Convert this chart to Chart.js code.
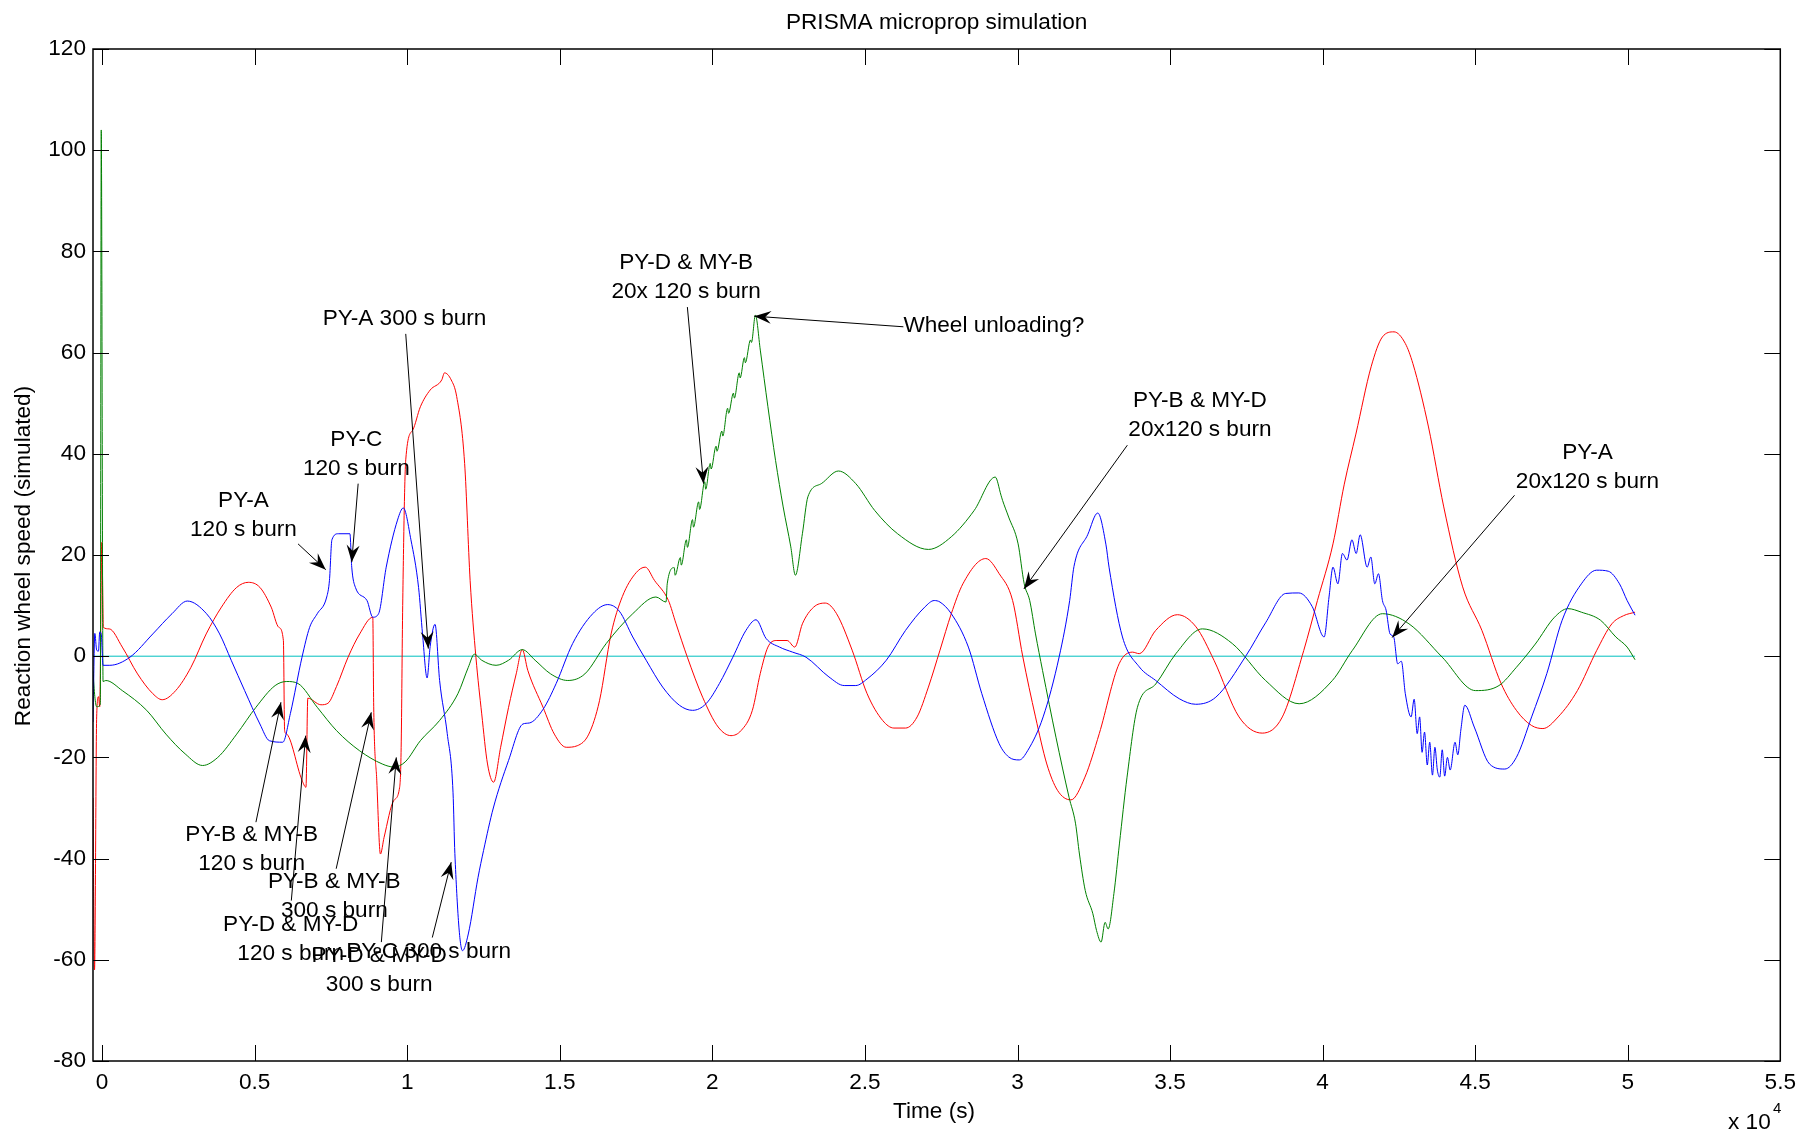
<!DOCTYPE html>
<html>
<head>
<meta charset="utf-8">
<title>PRISMA microprop simulation</title>
<script src="https://cdn.jsdelivr.net/npm/chart.js@4/dist/chart.umd.min.js"></script>
<style>
  html, body { margin: 0; padding: 0; background: #fff; }
  canvas { display: block; }
</style>
</head>
<body>
<canvas id="chart" width="1804" height="1132"></canvas>
<script>
// time in seconds, wheel speed as plotted
const tBlue = [-300,-240,-180,-120,-80,-30,30,250,910,1660,2290,2790,3420,3850,4230,4670,5170,5480,5920,6170,
  6550,6800,7050,7360,7450,7530,7740,8120,8180,8300,8680,8870,9060,9310,9680,9870,10120,10370,10500,10650,
  10750,10910,11060,11310,11500,11560,11810,12000,12320,12500,12820,13320,13790,14000,14450,14880,15420,16080,16570,16950,
  17390,17830,18370,18920,19350,19790,20230,20670,21100,21430,21760,22200,22630,23070,23820,24320,24700,25070,25700,26330,
  26960,27270,27460,27830,28390,28830,29400,29710,30060,30340,30840,31370,31710,31850,32300,32630,32900,33000,33440,33990,
  34530,35300,35840,36500,37480,38130,38790,39220,39660,40050,40210,40340,40500,40650,40800,40960,41100,41230,41460,41580,
  41710,41830,41960,42080,42210,42330,42460,42580,42710,42900,43000,43100,43180,43260,43340,43430,43510,43600,43680,43760,
  43840,43920,44000,44090,44180,44340,44430,44530,44660,44970,45470,45970,46350,46850,47350,47850,48480,48980,49360,49730,
  49980,50240];
const vBlue = [-13,4.5,1.2,1.0,4.8,4.4,-1.8,-1.8,-0.2,4.4,8.4,10.9,8.4,4.4,-0.8,-6.8,-13.4,-16.7,-17,-11.3,
  -0.2,5.7,8.4,11.7,15,23,24.2,24.2,17.6,13.6,11,7.7,8.4,17.6,26.9,29.3,23,13.6,4.4,-4.3,
  1.9,6.3,-4.8,-15.3,-27,-39,-58.2,-54.9,-43.7,-38.4,-30,-20.6,-13.4,-13.2,-10.5,-5.4,2.5,8.4,10.2,8.9,
  3.8,-0.8,-6.1,-9.7,-10.7,-9.4,-5.4,-0.2,5.1,7.2,3.5,1.8,0.8,-0.2,-4.1,-5.8,-5.8,-4.5,-0.8,5.1,
  9.7,11,10.7,8.4,1.8,-7.4,-17.3,-19.9,-20.5,-18.6,-12,0,11,17.7,24,28.3,22,17.6,3.8,-2.1,
  -4.8,-8.4,-9.5,-8.1,0,6.6,12.4,12.5,9.8,3.8,11.7,17.6,14.3,20.3,19,23,20.3,24,17.6,19.6,
  14.3,16.3,11,9.1,4.4,3.8,-1.5,-1.0,-7.4,-12,-8.5,-15.3,-12,-19,-15,-21.5,-17,-23.5,-18,-22.5,
  -23.9,-18.5,-23.7,-20,-22.5,-17,-19.5,-14.6,-9.7,-14,-21.3,-22.3,-20,-12,-3.4,7.1,14.3,17,16.8,14.3,
  11,8.1];

const tGreen = [-300,-240,-180,-60,-30,30,120,660,1460,2090,2720,3290,3790,4410,5040,5670,6050,6420,7050,7680,
  8440,9180,9560,9930,10430,11060,11660,12000,12200,12440,12910,13320,13770,14190,14700,15260,15820,16520,17390,18150,
  18480,18520,18750,18780,18950,18980,19150,19180,19350,19380,19550,19580,19750,19780,19930,19960,20120,20150,20310,20340,
  20500,20530,20690,20720,20880,20910,21050,21080,21250,21280,21410,21570,21820,22070,22320,22570,22720,22950,23130,23570,
  24130,24700,25320,26070,27080,27830,28580,29270,29460,29510,29710,30020,30220,30400,30590,30820,31260,31690,31900,32030,
  32220,32470,32590,32740,32870,32970,33160,33340,33590,33930,34530,35190,36060,37040,38130,39230,40320,40970,41960,42830,
  43920,45010,45780,46350,46970,47600,48040,48480,49110,49610,49980,50240];
const vGreen = [-3,-8,-10,-9.5,104,-5,-4.8,-6.8,-10.7,-15.4,-19.3,-21.6,-20,-15.4,-10.1,-5.8,-5,-5.4,-10.1,-14.7,
  -18.7,-21.3,-21.9,-20.9,-16.7,-12.7,-7.4,-2.2,0.4,-0.8,-1.8,-0.8,1.3,-0.8,-3.5,-4.8,-3.5,2.5,8.4,11.7,
  10.7,14.3,17.5,16,19.5,18,23,21.5,27,25.5,30.5,29,34.5,33,38.1,37,41.5,40.5,44.5,43.5,
  49,48,52,51,56,55,59,58,62.5,62,67.4,60.5,49.3,38.7,29.5,21.6,16,24.2,31.5,34.1,
  36.6,34.1,28.8,24.2,21.1,23.6,28.8,35.4,31.8,30.8,27.5,22.2,14.3,11,4.4,-2.8,-16,-27.9,-33,-39.1,
  -46.3,-50.9,-54.2,-56.5,-52.6,-53.9,-46.9,-37.1,-23.9,-10.1,-5.5,0.5,5.4,2.5,-4.8,-9.4,-4.8,1.1,8.4,6.4,
  -0.2,-6.8,-5.8,-2.2,2.4,7.7,9.4,8.7,7.1,3.8,1.8,-0.7];

const tRed = [-300,-250,-180,-120,-80,-10,40,230,660,1160,1660,1970,2410,2910,3410,3910,4410,4790,5170,5540,
  5790,5940,5980,6030,6550,6680,6740,7170,7400,7680,8060,8440,8870,8900,9000,9120,9240,9560,9750,9800,
  9850,9950,10180,10430,10750,11130,11220,11440,11620,11880,12060,12250,12440,12630,12830,13060,13320,13570,13770,13950,
  14450,14820,15210,15570,15950,16300,16680,17050,17500,17800,18100,18560,18810,19180,19680,20190,20610,20940,21310,21570,
  21820,22090,22450,22700,22950,23320,23700,24070,24580,25070,25580,25950,26330,26710,27080,27460,27830,28210,28960,29400,
  29840,30170,30590,30960,31310,31750,32210,32680,33330,33770,33990,34530,35240,35850,36440,37260,38020,38680,39380,39830,
  40340,40710,41090,41590,41960,42340,42710,42960,43470,43970,44590,45220,45850,46350,46850,47220,47720,48350,48980,49480,
  49860,50240];
const vRed = [-28,-62,-12,-8,-10,22.5,5.7,5.4,1.8,-3.5,-7.4,-8.6,-6.8,-2.2,4.4,9.7,13.6,14.6,13.6,9.7,
  5.7,3.1,-14.7,-15.3,-24.5,-25.9,-8.3,-9.6,-9.3,-6,-0.2,4.4,7.7,-10,-24.5,-39.1,-35.8,-28.5,-25.9,-18,
  10,38.8,44.7,49.3,52.6,54.6,56,54.6,51.3,38.1,15,-0.2,-11.4,-21.3,-24.9,-18,-10.1,-3.5,1.3,-2.8,
  -10.1,-15.4,-18,-17.7,-15.4,-8.8,4.4,11.8,16.5,17.6,15,11,6.4,-0.2,-8.1,-14,-15.7,-14.7,-10.7,-3.4,
  1.8,3.1,3.1,1.8,6.4,9.7,10.5,8.4,1.2,-7.4,-12.7,-14.2,-14.2,-12,-6.1,1.2,8.4,14.3,19.3,16.3,
  11,0,-12,-21.3,-26.5,-28.4,-23.9,-15.3,-1.5,0.8,0.5,5.1,8.2,5.8,-0.8,-12,-15.2,-12,1.1,11,
  22.2,34,43.9,57.2,63.1,64.1,61.8,57.8,45.3,29.5,13.7,5.1,-5.4,-10.7,-13.7,-14.3,-12,-6.8,1.1,6.4,
  8,8.7];

const tZero = [-300, 50240];
const vZero = [0, 0];

const xTickVals = [0, 5000, 10000, 15000, 20000, 25000, 30000, 35000, 40000, 45000, 50000, 55000];
const yTickVals = [-80, -60, -40, -20, 0, 20, 40, 60, 80, 100, 120];

// annotations: text centre (first line), arrow tail and tip, in data units
const notes = [
  { lines: ['PY-A 300 s burn'], at: [9910, 66.7], from: [9950, 63.7], to: [10690, 1.5] },
  { lines: ['PY-C', '120 s burn'], at: [8330, 42.8], from: [8390, 34.1], to: [8180, 18.6] },
  { lines: ['PY-A', '120 s burn'], at: [4630, 30.7], from: [6420, 22.2], to: [7330, 17.1] },
  { lines: ['PY-D & MY-B', '20x 120 s burn'], at: [19140, 77.8], from: [19180, 69.0], to: [19710, 34.1] },
  { lines: ['Wheel unloading?'], at: [26260, 65.3], from: [26260, 65.1], to: [21370, 67.2], align: 'left' },
  { lines: ['PY-B & MY-D', '20x120 s burn'], at: [35980, 50.5], from: [33600, 41.7], to: [30210, 13.3] },
  { lines: ['PY-A', '20x120 s burn'], at: [48680, 40.3], from: [46290, 31.8], to: [42280, 3.7] },
  { lines: ['PY-B & MY-B', '120 s burn'], at: [4900, -35.3], from: [5040, -32.8], to: [5860, -9.1] },
  { lines: ['PY-B & MY-B', '300 s burn'], at: [7610, -44.6], from: [7670, -42.0], to: [8820, -11.1] },
  { lines: ['PY-D & MY-D', '120 s burn'], at: [6180, -53.0], from: [6200, -48.3], to: [6670, -15.7] },
  { lines: ['PY-D & MY-D', '300 s burn'], at: [9080, -59.2], from: [9150, -56.5], to: [9640, -20.0] },
  { lines: ['PY-C 300 s burn'], at: [10700, -58.5], from: [10820, -55.6], to: [11440, -40.7] }
];

const FONT = '"Liberation Sans", Arial, Helvetica, sans-serif';
const FSIZE = 22.6;
const TICK = 16;

function pts(ts, vs) {
    return ts.map((t, i) => ({ x: t, y: vs[i] }));
}

function series(ts, vs, colour) {
    return {
        data: pts(ts, vs),
        borderColor: colour,
        borderWidth: 1,
        pointRadius: 0,
        cubicInterpolationMode: 'monotone',
        fill: false
    };
}

function arrowHead(ctx, x1, y1, x2, y2) {
    const ang = Math.atan2(y2 - y1, x2 - x1);
    ctx.save();
    ctx.translate(x2, y2);
    ctx.rotate(ang);
    ctx.beginPath();
    ctx.moveTo(0, 0);
    ctx.lineTo(-17, -6.5);
    ctx.lineTo(-11, 0);
    ctx.lineTo(-17, 6.5);
    ctx.closePath();
    ctx.fill();
    ctx.restore();
}

const decorations = {
    id: 'decorations',
    afterDatasetsDraw(chart) {
        const ctx = chart.ctx;
        const a = chart.chartArea;
        const x = chart.scales.x, y = chart.scales.y;
        ctx.save();
        ctx.strokeStyle = '#000';
        ctx.fillStyle = '#000';

        // inward ticks on all four sides
        ctx.lineWidth = 1;
        ctx.beginPath();
        xTickVals.forEach(v => {
            const px = Math.round(x.getPixelForValue(v)) + 0.5;
            ctx.moveTo(px, a.bottom); ctx.lineTo(px, a.bottom - TICK);
            ctx.moveTo(px, a.top); ctx.lineTo(px, a.top + TICK);
        });
        yTickVals.forEach(v => {
            const py = Math.round(y.getPixelForValue(v)) + 0.5;
            ctx.moveTo(a.left, py); ctx.lineTo(a.left + TICK, py);
            ctx.moveTo(a.right, py); ctx.lineTo(a.right - TICK, py);
        });
        ctx.stroke();

        // box
        ctx.lineWidth = 1.5;
        ctx.strokeRect(a.left, a.top, a.right - a.left, a.bottom - a.top);

        // titles
        ctx.font = FSIZE + 'px ' + FONT;
        ctx.textAlign = 'center';
        ctx.textBaseline = 'alphabetic';
        ctx.fillText('PRISMA microprop simulation', (a.left + a.right) / 2, 29);
        ctx.fillText('Time (s)', 934, 1118);
        ctx.save();
        ctx.translate(30, 556);
        ctx.rotate(-Math.PI / 2);
        ctx.fillText('Reaction wheel speed (simulated)', 0, 0);
        ctx.restore();

        // exponent of the x axis
        ctx.textAlign = 'left';
        ctx.fillText('x 10', 1728, 1129);
        ctx.font = '15px ' + FONT;
        ctx.fillText('4', 1773, 1113);

        // annotations
        ctx.lineWidth = 1;
        notes.forEach(n => {
            const fx = x.getPixelForValue(n.from[0]), fy = y.getPixelForValue(n.from[1]);
            const tx = x.getPixelForValue(n.to[0]), ty = y.getPixelForValue(n.to[1]);
            ctx.beginPath();
            ctx.moveTo(fx, fy);
            ctx.lineTo(tx, ty);
            ctx.stroke();
            arrowHead(ctx, fx, fy, tx, ty);

            ctx.font = FSIZE + 'px ' + FONT;
            ctx.textAlign = n.align || 'center';
            ctx.textBaseline = 'middle';
            const cx = x.getPixelForValue(n.at[0]);
            const cy = y.getPixelForValue(n.at[1]);
            n.lines.forEach((s, i) => ctx.fillText(s, cx, cy + i * 29));
        });
        ctx.restore();
    }
};

new Chart(document.getElementById('chart'), {
    type: 'line',
    data: {
        datasets: [
            series(tBlue, vBlue, 'rgb(0,0,255)'),
            series(tGreen, vGreen, 'rgb(0,128,0)'),
            series(tRed, vRed, 'rgb(255,0,0)'),
            series(tZero, vZero, 'rgb(0,191,191)')
        ]
    },
    options: {
        responsive: false,
        devicePixelRatio: 1,
        animation: false,
        layout: { padding: { top: 49, right: 22, left: 0, bottom: 0 } },
        plugins: {
            legend: { display: false },
            title: { display: false },
            tooltip: { enabled: false }
        },
        scales: {
            x: {
                type: 'linear',
                min: -300,
                max: 55000,
                afterBuildTicks: s => { s.ticks = xTickVals.map(v => ({ value: v })); },
                afterFit: s => { s.height = 71; },
                grid: { display: false, drawTicks: false },
                border: { display: false },
                ticks: {
                    color: '#000',
                    font: { family: FONT, size: FSIZE },
                    padding: 8,
                    maxRotation: 0,
                    autoSkip: false,
                    callback: v => String(v / 10000)
                }
            },
            y: {
                min: -80,
                max: 120,
                afterBuildTicks: s => { s.ticks = yTickVals.map(v => ({ value: v })); },
                afterFit: s => { s.width = 93; },
                grid: { display: false, drawTicks: false },
                border: { display: false },
                ticks: {
                    color: '#000',
                    font: { family: FONT, size: FSIZE },
                    padding: 7,
                    autoSkip: false,
                    callback: v => String(v)
                }
            }
        }
    },
    plugins: [decorations]
});
</script>
</body>
</html>
